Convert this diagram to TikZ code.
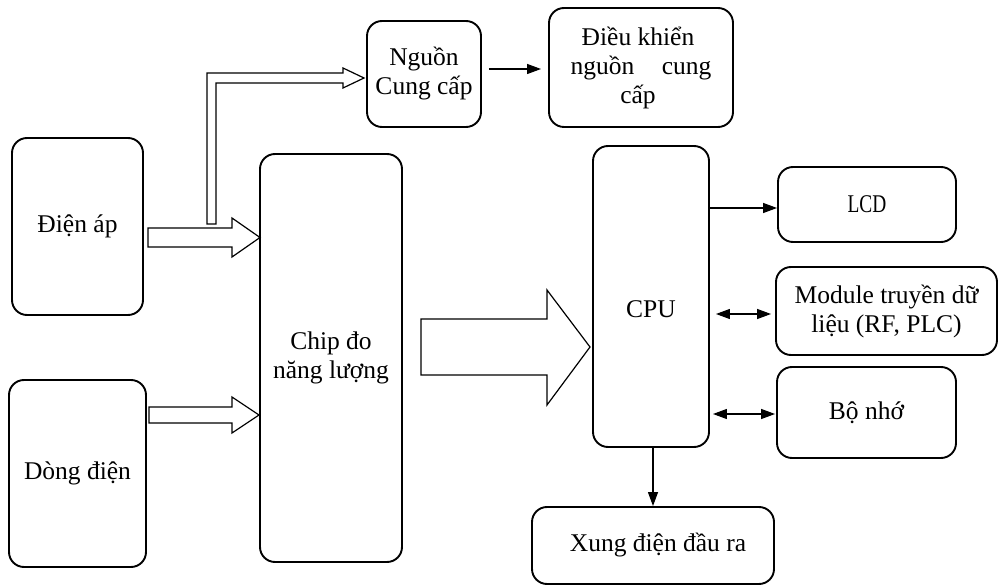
\documentclass[tikz,border=0pt]{standalone}
\usepackage{fontspec}
\setmainfont{Liberation Serif}
\usetikzlibrary{arrows.meta,calc}
\begin{document}
\begin{tikzpicture}[x=1pt,y=-1pt,
  txt/.style={font=\fontsize{25.5}{29}\selectfont},
  box/.style={draw, line width=1.9pt, rounded corners=15pt, align=center, inner sep=0pt, txt},
  conn/.style={line width=1.2pt, -{Triangle[length=14pt,width=10pt]}},
  conntwo/.style={line width=1.2pt, {Triangle[length=14pt,width=10pt]}-{Triangle[length=14pt,width=10pt]}},
  hollow/.style={draw, line width=1.2pt, fill=white, line join=miter}]
\useasboundingbox (0,0) rectangle (999,585);

% boxes
\node[box, minimum width=131pt, minimum height=177pt] (da) at (77.5,226.5) {Điện áp};
\node[box, minimum width=137pt, minimum height=187pt] (dd) at (77.5,473.5) {Dòng điện};
\node[box, minimum width=142pt, minimum height=408pt] (chip) at (331,358) {Chip đo\\năng lượng};
\node[box, minimum width=114pt, minimum height=106pt] (ng) at (424,74) {Nguồn\\Cung cấp};
\node[box, minimum width=184pt, minimum height=119pt] (dk) at (641,67.5)
  {\hspace*{-6pt}Điều khiển\\\makebox[141pt][s]{nguồn cung}\\\hspace*{-6pt}cấp};
\node[box, minimum width=116pt, minimum height=301pt,
      label={[txt, yshift=-12.5pt]center:CPU}] (cpu) at (651,296.5) {};
\node[box, minimum width=178pt, minimum height=75pt] (lcd) at (867,204.5) {\scalebox{0.76}[1]{LCD}};
\node[box, minimum width=221pt, minimum height=88pt] (mod) at (886.5,311) {Module truyền dữ\\liệu (RF, PLC)};
\node[box, minimum width=179pt, minimum height=91pt] (mem) at (866.5,412.5) {Bộ nhớ};
\node[box, minimum width=242pt, minimum height=77pt] (xung) at (653,545.5) {\hspace*{10pt}Xung điện đầu ra};

% hollow block arrows
\draw[hollow] (207,224) -- (207,73) -- (343,73) -- (343,68) -- (364,78) -- (343,88) -- (343,83) -- (216,83) -- (216,224) -- cycle;
\draw[hollow] (148,228) -- (232,228) -- (232,218) -- (260,237.5) -- (232,257) -- (232,247) -- (148,247) -- cycle;
\draw[hollow] (149,407) -- (232,407) -- (232,397) -- (259,415) -- (232,433) -- (232,423) -- (149,423) -- cycle;
\draw[hollow] (421,319) -- (547,319) -- (547,290) -- (590,347) -- (547,405) -- (547,375) -- (421,375) -- cycle;

% connectors
\draw[conn] ($(ng.east)+(7,-5)$) -- ($(dk.west)+(-7,1.5)$);
\draw[conn] ($(cpu.east |- lcd.west)+(0,3.5)$) -- ($(lcd.west)+(0,3.5)$);
\draw[conntwo] ($(cpu.east |- mod.west)+(6,3)$) -- ($(mod.west)+(-4,3)$);
\draw[conntwo] ($(cpu.east |- mem.west)+(3,1.5)$) -- ($(mem.west)+(-1,1.5)$);
\draw[conn] (cpu.south -| xung.north) -- (xung.north);
\end{tikzpicture}
\end{document}
